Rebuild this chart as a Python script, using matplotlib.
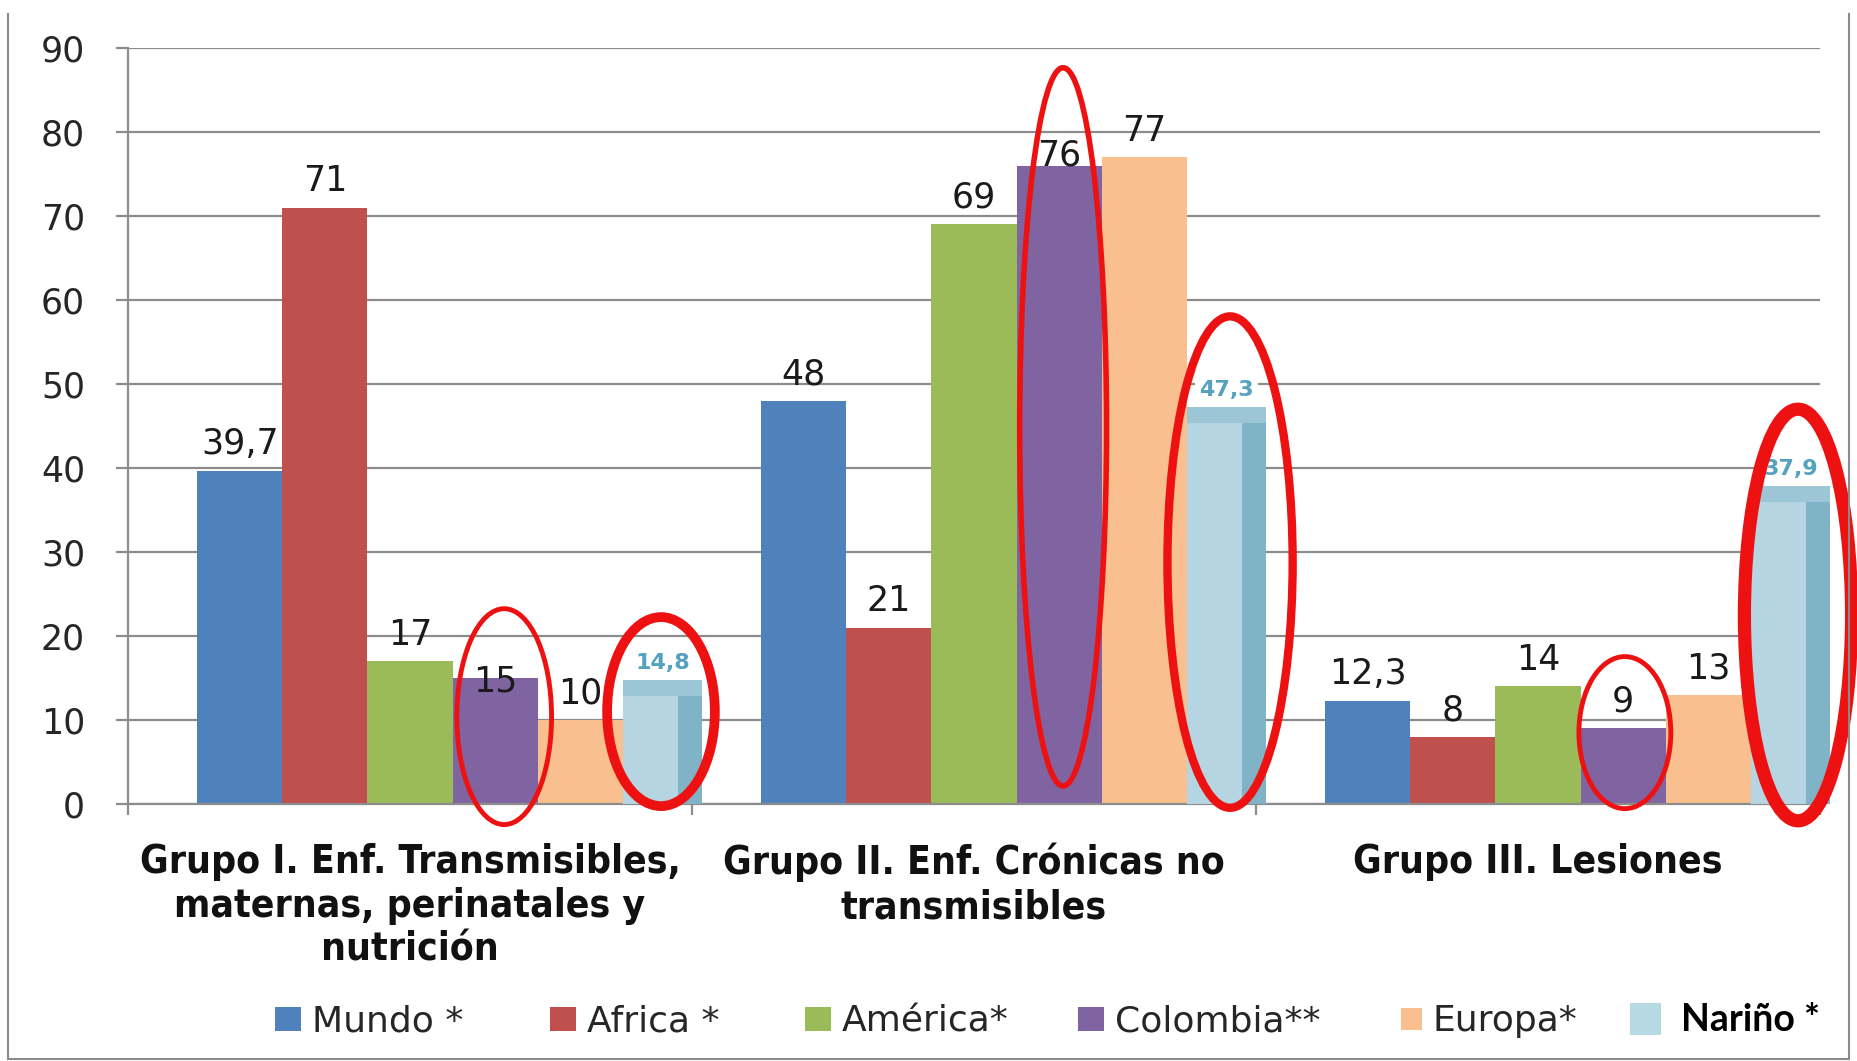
import matplotlib.pyplot as plt
import numpy as np
from matplotlib.lines import Line2D
from matplotlib.patches import Ellipse, Rectangle

# --- data ---
groups = [
    "Grupo I. Enf. Transmisibles,\nmaternas, perinatales y\nnutrición",
    "Grupo II. Enf. Crónicas no\ntransmisibles",
    "Grupo III. Lesiones",
]
series_names = ["Mundo *", "Africa *", "América*", "Colombia**", "Europa*"]
mundo = [39.7, 48, 12.3]
africa = [71, 21, 8]
america = [17, 69, 14]
colombia = [15, 76, 9]
europa = [10, 77, 13]
narino = [14.8, 47.3, 37.9]
narino_name = "Nariño *"

series_values = [mundo, africa, america, colombia, europa]
series_colors = ["#4f81bd", "#c0504d", "#9bbb59", "#8064a2", "#f9bf8f"]
narino_front = "#b4d5e1"
narino_side = "#80b3c6"
narino_cap = "#9cc6d5"
grid_color = "#8c8c8c"

W, H = 1858, 1061
fig = plt.figure(figsize=(W / 100, H / 100), dpi=100)
ax = fig.add_axes([128 / W, 1 - 804 / H, 1692 / W, 756 / H])

x = np.arange(len(groups))
bar_w = 0.151

# label nudges (points) for labels that sit lower in the original
nudge = {(3, 0): -22, (3, 1): -12}

for k, (vals, color) in enumerate(zip(series_values, series_colors)):
    pos = x + (k - 2) * bar_w
    ax.bar(pos, vals, bar_w, color=color, zorder=2, linewidth=0)
    for j, (xi, v) in enumerate(zip(pos, vals)):
        ax.annotate(f"{v:g}".replace(".", ","), (xi, v),
                    xytext=(0, 12 + nudge.get((k, j), 0)), textcoords="offset points",
                    ha="center", va="baseline", fontsize=25, color="#1a1a1a", zorder=3)

# Nariño: pasted pseudo-3D bar in the gap to the right of each group
front_w, depth_w, cap_h = 0.097, 0.044, 1.9
start = x + 2.5 * bar_w
narino_arr = np.array(narino)
ax.bar(start, narino_arr, front_w + depth_w, align="edge", color=narino_side,
       zorder=4, linewidth=0, clip_on=False)
ax.bar(start, narino_arr - cap_h, front_w, align="edge", color=narino_front,
       zorder=5, linewidth=0, clip_on=False)
ax.bar(start, cap_h, front_w + depth_w, bottom=narino_arr - cap_h, align="edge",
       color=narino_cap, zorder=5, linewidth=0, clip_on=False)
for xi, v in zip(start + (front_w + depth_w) / 2, narino):
    ax.annotate(f"{v:g}".replace(".", ","), (xi, v), xytext=(0, 5),
                textcoords="offset points", ha="center", va="bottom",
                fontsize=16, fontweight="bold", color="#55a2bf", zorder=6,
                annotation_clip=False,
                bbox=dict(boxstyle="square,pad=0.2", fc="white", ec="none"))

# red hand-drawn highlight ellipses
ellipses = [
    ((0.167, 10.4), 0.168, 25.7, 3.5),
    ((0.445, 11.0), 0.191, 22.5, 7.0),
    ((1.158, 44.9), 0.154, 85.5, 4.0),
    ((1.454, 28.8), 0.222, 58.5, 6.0),
    ((2.154, 8.5), 0.163, 18.1, 3.5),
    ((2.461, 22.5), 0.190, 49.0, 9.5),
]
for center, ew, eh, lw in ellipses:
    ax.add_patch(Ellipse(center, ew, eh, fill=False, ec="#ee1111", lw=lw,
                         zorder=7, clip_on=False))

ax.set_xlim(-0.5, 2.5)
ax.set_ylim(0, 90)
ax.set_yticks(range(0, 91, 10))
ax.yaxis.grid(True, color=grid_color, lw=1.6)
ax.set_axisbelow(True)
for side in ["top", "right"]:
    ax.spines[side].set_visible(False)
for side in ["left", "bottom"]:
    ax.spines[side].set_color(grid_color)
    ax.spines[side].set_linewidth(1.6)

ax.tick_params(axis="y", length=9, width=1.6, color=grid_color, labelsize=25,
               labelcolor="#262626", pad=22)
ax.set_xticks(x)
ax.set_xticklabels(groups, fontsize=28, fontweight="bold", fontstretch="condensed",
                   linespacing=1.2, color="#111111")
ax.tick_params(axis="x", which="major", length=0, pad=28)
ax.set_xticks([-0.5, 0.5, 1.5, 2.5], minor=True)
ax.tick_params(axis="x", which="minor", length=8, width=1.6, color=grid_color)

# legend drawn by hand to follow the uneven spacing of the original
legend_left = [275, 550, 805, 1078, 1401, 1630]
legend_sizes = [(26, 24), (26, 24), (26, 24), (26, 24), (21, 22), (31, 32)]
legend_colors = series_colors + ["#b6d9e3"]
legend_names = series_names + [narino_name]
baseline = 1031
for i, (lx, (sw, sh), c, name) in enumerate(zip(legend_left, legend_sizes,
                                                 legend_colors, legend_names)):
    fig.add_artist(Rectangle((lx / W, 1 - (1019 + sh / 2) / H), sw / W, sh / H,
                             transform=fig.transFigure, color=c, lw=0))
    if i < 5:
        fig.text((lx + sw + 11) / W, 1 - baseline / H, name, fontsize=26,
                 color="#262626", va="baseline", ha="left")
    else:
        fig.text((lx + sw + 20) / W, 1 - baseline / H, name, fontsize=27,
                 fontweight="bold", family="Lato", color="black",
                 va="baseline", ha="left")

# thin frame around the pasted picture
frame = dict(transform=fig.transFigure, color="#8a8a8a", lw=1.5)
fig.add_artist(Line2D([8 / W, 8 / W], [1 - 14 / H, 1 - 1059 / H], **frame))
fig.add_artist(Line2D([1849 / W, 1849 / W], [1 - 14 / H, 1 - 1059 / H], **frame))
fig.add_artist(Line2D([8 / W, 1849 / W], [1 - 1059 / H, 1 - 1059 / H], **frame))

fig.savefig("out.png", dpi=100, facecolor="white")
